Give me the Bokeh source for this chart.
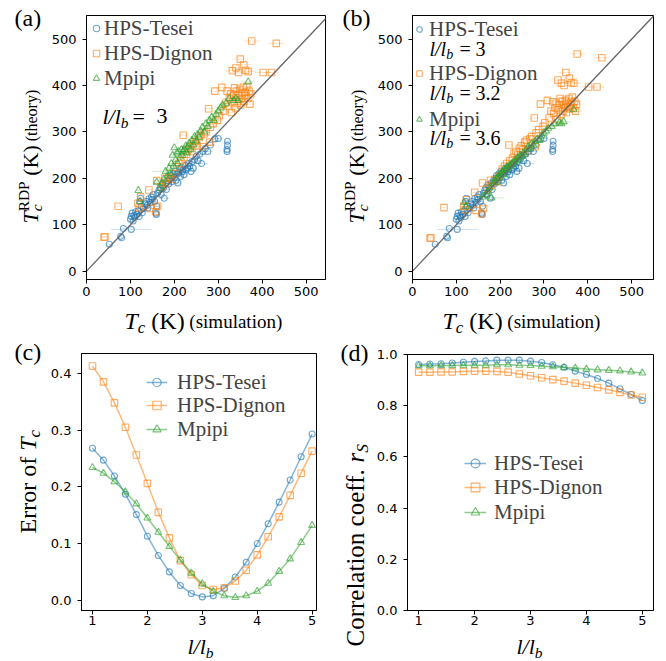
import math
from bokeh.plotting import figure
from bokeh.layouts import row, column
from bokeh.models import Label, Legend, LegendItem, FixedTicker, NumeralTickFormatter, Range1d
from bokeh.embed import file_html
from bokeh.resources import INLINE

BLUE = "#1f77b4"
ORANGE = "#ff7f0e"
GREEN = "#2ca02c"
SERIF = "Liberation Serif"
SANS = "DejaVu Sans"

# ---------------- data: panels (a) and (b) ----------------
tesei_sim = [52, 78, 80, 84, 102, 100, 102, 104, 106, 108, 110, 112, 115, 118, 120, 121, 123, 125, 127, 130,
             133, 136, 138, 140, 142, 145, 148, 150, 152, 155, 158, 159, 160, 162, 165, 168, 170, 172, 175, 177,
             180, 182, 185, 187, 190, 192, 195, 197, 200, 202, 204, 206, 208, 210, 212, 214, 216, 218, 220, 222,
             225, 227, 230, 232, 235, 238, 240, 243, 246, 250, 254, 258, 262, 265, 270, 276, 282, 292, 300,
             320, 320, 321, 321]
tesei_theory = [58, 75, 72, 92, 90, 112, 118, 125, 108, 120, 116, 128, 122, 130, 118, 150, 157, 140, 126, 135,
                145, 150, 142, 136, 156, 148, 160, 155, 165, 150, 125, 122, 140, 168, 175, 180, 165, 186, 178, 157,
                190, 176, 195, 188, 200, 206, 193, 210, 202, 216, 196, 210, 190, 212, 220, 204, 224, 214, 218, 208,
                228, 218, 222, 232, 226, 215, 236, 222, 240, 248, 238, 252, 232, 258, 264, 258, 272, 285, 286,
                258, 262, 271, 280]
tesei_err = [3, 3, 3, 4, 46, 5, 4, 4, 4, 5, 4, 5, 4, 5, 5, 4, 4, 5, 5, 5,
             6, 5, 5, 6, 5, 6, 6, 5, 5, 6, 6, 5, 6, 6, 6, 7, 6, 7, 6, 12,
             7, 6, 7, 8, 7, 8, 7, 8, 7, 8, 7, 8, 7, 8, 8, 7, 9, 8, 8, 8,
             9, 8, 9, 9, 9, 8, 10, 9, 10, 10, 9, 10, 15, 10, 10, 10, 11, 10, 10,
             6, 6, 6, 6]

dignon_sim = [40, 42, 72, 117, 120, 123, 142, 145, 158, 160, 162, 170, 178, 180, 188, 195, 200, 205, 210, 215,
              220, 222, 228, 232, 236, 240, 244, 248, 252, 256, 260, 264, 268, 272, 278, 280, 282, 288, 292, 298,
              302, 308, 312, 316, 320, 322, 325, 328, 330, 333, 335, 337, 339, 341, 343, 345, 347, 349, 351, 353,
              355, 357, 359, 361, 363, 365, 367, 370, 372, 374, 332, 340, 346, 350, 358, 362, 368, 376, 402, 421,
              432]
dignon_theory_3 = [73, 74, 140, 146, 136, 160, 175, 135, 128, 195, 140, 182, 200, 190, 202, 198, 210, 225, 232, 238,
                   293, 245, 252, 262, 268, 258, 275, 280, 270, 288, 292, 268, 296, 300, 350, 278, 310, 318, 388, 325,
                   335, 396, 345, 362, 388, 355, 372, 382, 342, 365, 378, 395, 352, 388, 362, 380, 370, 392, 358, 384,
                   372, 396, 366, 386, 378, 398, 372, 388, 360, 382, 432, 438, 428, 457, 445, 433, 430, 496, 428, 428,
                   491]
dignon_theory_32 = [71, 72, 137, 140, 132, 154, 170, 131, 124, 190, 135, 178, 196, 185, 198, 193, 205, 220, 226, 232,
                    272, 238, 244, 254, 258, 250, 265, 270, 262, 278, 282, 260, 285, 290, 330, 268, 298, 305, 360, 312,
                    320, 368, 330, 345, 365, 340, 352, 362, 328, 348, 358, 372, 338, 366, 345, 358, 352, 368, 342, 362,
                    354, 372, 350, 364, 358, 375, 352, 366, 345, 360, 412, 405, 400, 428, 416, 406, 405, 468, 397, 397,
                    460]
dignon_err = [3, 3, 4, 5, 5, 5, 6, 6, 6, 6, 6, 7, 7, 7, 7, 8, 8, 8, 8, 8,
              9, 9, 9, 9, 9, 9, 10, 10, 10, 10, 10, 10, 10, 11, 11, 11, 11, 11, 12, 12,
              12, 12, 12, 12, 13, 13, 13, 13, 13, 13, 14, 14, 14, 14, 14, 14, 14, 14, 14, 14,
              15, 15, 15, 15, 15, 15, 15, 15, 15, 15, 18, 18, 18, 18, 18, 18, 18, 18, 18, 18,
              18]

mpipi_sim = [118, 122, 160, 168, 172, 176, 180, 184, 188, 190, 193, 196, 198, 200, 203, 206, 208, 210, 213, 216,
             218, 220, 223, 226, 228, 231, 234, 237, 240, 243, 246, 250, 253, 256, 260, 264, 268, 272, 276, 280,
             285, 290, 295, 300, 305, 310, 318, 325, 335, 340, 345, 368]
mpipi_theory_3 = [174, 150, 192, 178, 190, 198, 215, 205, 222, 210, 232, 250, 226, 266, 240, 255, 232, 258, 246, 262,
                  250, 258, 262, 270, 255, 268, 276, 262, 282, 272, 290, 280, 295, 288, 302, 310, 300, 318, 312, 325,
                  332, 325, 338, 345, 352, 358, 362, 372, 368, 372, 368, 408]
mpipi_theory_36 = [148, 140, 160, 165, 172, 180, 158, 190, 195, 192, 200, 205, 202, 210, 212, 215, 208, 220, 218, 225,
                   222, 228, 226, 232, 230, 235, 240, 238, 245, 242, 250, 248, 255, 252, 262, 268, 265, 275, 272, 280,
                   285, 282, 292, 298, 302, 308, 312, 318, 320, 318, 322, 348]
mpipi_err = [5, 5, 6, 6, 6, 7, 30, 7, 7, 7, 8, 8, 8, 8, 8, 8, 8, 8, 8, 9,
             9, 9, 9, 9, 9, 9, 10, 10, 10, 10, 10, 10, 10, 10, 11, 11, 11, 11, 11, 12,
             12, 12, 12, 12, 13, 13, 13, 13, 14, 14, 14, 15]

diag = [0, 560]

# ---------------- data: panels (c) and (d) ----------------
lb_ratio = [1.0, 1.2, 1.4, 1.6, 1.8, 2.0, 2.2, 2.4, 2.6, 2.8, 3.0, 3.2, 3.4, 3.6, 3.8, 4.0, 4.2, 4.4, 4.6, 4.8, 5.0]
err_tesei = [0.268, 0.247, 0.219, 0.187, 0.151, 0.113, 0.079, 0.050, 0.026, 0.012, 0.006, 0.008, 0.021, 0.041,
             0.067, 0.100, 0.135, 0.173, 0.212, 0.253, 0.293]
err_dignon = [0.413, 0.385, 0.348, 0.305, 0.256, 0.206, 0.155, 0.110, 0.070, 0.045, 0.026, 0.019, 0.022, 0.034,
              0.053, 0.080, 0.112, 0.147, 0.185, 0.224, 0.263]
err_mpipi = [0.234, 0.224, 0.209, 0.191, 0.170, 0.145, 0.120, 0.095, 0.071, 0.048, 0.029, 0.016, 0.008, 0.005,
             0.008, 0.016, 0.030, 0.051, 0.073, 0.102, 0.132]
rs_tesei = [0.961, 0.963, 0.964, 0.967, 0.970, 0.973, 0.975, 0.978, 0.978, 0.978, 0.974, 0.969, 0.960, 0.950,
            0.935, 0.922, 0.906, 0.888, 0.866, 0.844, 0.820]
rs_dignon = [0.931, 0.931, 0.932, 0.932, 0.934, 0.935, 0.935, 0.934, 0.931, 0.924, 0.917, 0.909, 0.902, 0.896,
             0.888, 0.880, 0.871, 0.862, 0.852, 0.842, 0.833]
rs_mpipi = [0.956, 0.956, 0.957, 0.957, 0.958, 0.958, 0.958, 0.960, 0.960, 0.958, 0.957, 0.954, 0.952, 0.949,
            0.947, 0.943, 0.940, 0.938, 0.936, 0.932, 0.928]

model_names = ["HPS-Tesei", "HPS-Dignon", "Mpipi"]
ratio_labels_b = ["3", "3.2", "3.6"]
scat_ticks = [0, 100, 200, 300, 400, 500]

# ---------------- text helpers ----------------
W_REG = {' ': 250, '(': 333, ')': 333, 'K': 722, 'R': 667, 'D': 722, 'P': 556, '=': 564, '.': 250,
         't': 278, 'h': 500, 'e': 444, 'o': 500, 'r': 333, 'y': 500, 's': 389, 'i': 278, 'm': 778,
         'u': 500, 'l': 278, 'a': 444, 'n': 500, 'E': 611, 'f': 333, 'C': 667, 'c': 444, 'S': 556}
W_IT = {'T': 556, 'c': 444, 'l': 278, '/': 278, 'b': 500, 'r': 389, 'S': 500}
BASE_FIX = 0.29  # bokeh draws "alphabetic" text slightly below its anchor


def tw(s, size, italic):
    table = W_IT if italic else W_REG
    return sum(table.get(ch, 500) for ch in s) * size / 1000.0


def put(p, origin, px, py, text, size, italic=False, vertical=False):
    ox, oy = origin
    if vertical:
        px -= BASE_FIX * size
    else:
        py -= BASE_FIX * size
    p.add_layout(Label(x=px - ox, y=oy - py, x_units="screen", y_units="screen", text=text,
                       text_font=SERIF, text_font_size=f"{size}px",
                       text_font_style="italic" if italic else "normal",
                       text_color="black", text_baseline="alphabetic", text_align="left",
                       angle=math.pi / 2 if vertical else 0.0))


def runs(p, origin, x0, y0, items, vertical=False):
    pen = 0.0
    for text, size, italic, shift, adv in items:
        stripped = text.lstrip(" ")
        lead = tw(text[:len(text) - len(stripped)], size, italic)
        pen += lead
        if vertical:
            put(p, origin, x0 - shift, y0 - pen, stripped, size, italic, True)
        else:
            put(p, origin, x0 + pen, y0 - shift, stripped, size, italic)
        if adv:
            pen += tw(stripped, size, italic)
        else:
            pen -= lead


def make_fig(width, height, bl, br, bt, bb, xr, yr, xticks, yticks, xstandoff=3):
    p = figure(width=width, height=height, output_backend="svg", toolbar_location=None, tools="",
               min_border_left=bl, min_border_right=br, min_border_top=bt, min_border_bottom=bb,
               x_range=Range1d(*xr), y_range=Range1d(*yr))
    p.grid.visible = False
    p.background_fill_color = "white"
    p.border_fill_color = "white"
    p.outline_line_color = "black"
    p.outline_line_width = 1
    p.outline_line_alpha = 1
    for ax in (p.xaxis[0], p.yaxis[0]):
        ax.axis_line_color = "black"
        ax.major_tick_line_color = "black"
        ax.major_tick_out = 4
        ax.major_tick_in = 0
        ax.minor_tick_line_color = None
        ax.major_label_text_font = SANS
        ax.major_label_text_font_size = "13px"
        ax.major_label_text_color = "black"
    p.xaxis.ticker = FixedTicker(ticks=xticks)
    p.yaxis.ticker = FixedTicker(ticks=yticks)
    p.xaxis.major_label_standoff = xstandoff
    p.yaxis.major_label_standoff = 6
    return p


def strip(width, height):
    s = figure(width=width, height=height, output_backend="svg", toolbar_location=None, tools="",
               x_axis_type=None, y_axis_type=None, min_border=0, min_border_left=0, min_border_right=0,
               min_border_top=0, min_border_bottom=0, x_range=Range1d(0, 1), y_range=Range1d(0, 1))
    s.outline_line_color = None
    s.background_fill_color = "white"
    s.border_fill_color = "white"
    return s


def W(fig):
    # wrap a figure on its own so that bokeh does not align its frame with its neighbours
    return column(fig)


def scatter_set(p, sim, theory, err, color, marker, size):
    p.segment(x0=[s - e for s, e in zip(sim, err)], y0=theory,
              x1=[s + e for s, e in zip(sim, err)], y1=theory,
              line_color=color, line_alpha=0.22, line_width=1)
    return p.scatter(sim, theory, marker=marker, size=size, fill_color=None,
                     line_color=color, line_alpha=0.65, line_width=1.1)


def line_set(p, ys, color, marker, size):
    rl = p.line(lb_ratio, ys, line_color=color, line_alpha=0.55, line_width=1.5)
    rm = p.scatter(lb_ratio, ys, marker=marker, size=size, fill_color=None,
                   line_color=color, line_alpha=0.65, line_width=1.1)
    return [rl, rm]


def legends(p, frame, rends, vx, centers, gw, standoff, size=21):
    # one single-entry legend per model, each 30 px tall, centred on the given page rows
    for name, r, c in zip(model_names, rends, centers):
        item = LegendItem(label=name, renderers=r if isinstance(r, list) else [r])
        lg = Legend(items=[item], location=(vx, frame[1] - c - 15), orientation="vertical",
                    background_fill_alpha=0, border_line_color=None,
                    label_text_font=SERIF, label_text_font_size=f"{size}px",
                    glyph_width=gw, glyph_height=30, label_height=30,
                    label_standoff=standoff, spacing=0, padding=0, margin=0)
        p.add_layout(lg)


TC_X = [("T", 24, True, 0, True), ("c", 16.8, True, -5, True),
        (" (K)", 24, False, 0, True), (" (simulation)", 19, False, 0, True)]
TC_Y = [("T", 22, True, 0, True), ("c", 15.4, True, -4.5, False),
        ("RDP", 15.4, False, 9, True), (" (K)", 22, False, 0, True),
        (" (theory)", 16, False, 0, True)]
LLB = [("l/l", 22, True, 0, True), ("b", 15.4, True, -4, True)]

# page layout (x positions of strips / figures)
YA, YB, YC, YD = 46, 44, 44, 42          # widths of the y-label strips
WA, WB, WC, WD = 330 - YA, 335 - YB, 330 - YC, 335 - YD

# ---------------- panel (a) ----------------
FA = (86, 279)
pa = make_fig(WA, 303, 86 - YA, 5, 15, 24, (0, 544), (-18, 551), scat_ticks, scat_ticks)
ra = [scatter_set(pa, tesei_sim, tesei_theory, tesei_err, BLUE, "circle", 6),
      scatter_set(pa, dignon_sim, dignon_theory_3, dignon_err, ORANGE, "square", 6.5),
      scatter_set(pa, mpipi_sim, mpipi_theory_3, mpipi_err, GREEN, "triangle", 7)]
pa.line(diag, diag, line_color="#666666", line_width=1.3)
legends(pa, FA, ra, 2, [28, 53, 78], 16, 0)
runs(pa, FA, 102, 122, [("l/l", 22, True, 0, True), ("b", 15.4, True, -4.5, True)])
put(pa, FA, 132, 122, "=", 22)
put(pa, FA, 156, 122, "3", 22)
ysA = strip(YA, 336)
put(ysA, (0, 336), 14, 24, "(a)", 24)
runs(ysA, (0, 336), 36, 223, TC_Y, vertical=True)
xsA = strip(WA, 33)
runs(xsA, (YA, 336), 124, 327, TC_X)

# ---------------- panel (b) ----------------
FB = (411, 279)
pb = make_fig(WB, 303, 411 - 330 - YB, 12, 15, 24, (0, 550), (-18, 551), scat_ticks, scat_ticks)
rb = [scatter_set(pb, tesei_sim, tesei_theory, tesei_err, BLUE, "circle", 6),
      scatter_set(pb, dignon_sim, dignon_theory_32, dignon_err, ORANGE, "square", 6.5),
      scatter_set(pb, mpipi_sim, mpipi_theory_36, mpipi_err, GREEN, "triangle", 7)]
pb.line(diag, diag, line_color="#666666", line_width=1.3)
legends(pb, FB, rb, 0, [29, 73, 119], 14, 3)
for i, base in enumerate([54, 98, 143]):
    runs(pb, FB, 428, base, [("l/l", 20, True, 0, True), ("b", 14, True, -4, True)])
    put(pb, FB, 458, base, "=", 20)
    put(pb, FB, 474, base, ratio_labels_b[i], 20)
ysB = strip(YB, 336)
put(ysB, (330, 336), 342, 24, "(b)", 24)
runs(ysB, (330, 336), 362, 223, TC_Y, vertical=True)
xsB = strip(WB, 33)
runs(xsB, (330 + YB, 336), 442, 327, TC_X)

# ---------------- panel (c) ----------------
FC = (81, 610)
pc = make_fig(WC, 295, 81 - YC, 14, 17, 21, (0.8, 5.08), (-0.018, 0.435), [1, 2, 3, 4, 5],
              [0.0, 0.1, 0.2, 0.3, 0.4], xstandoff=1)
pc.yaxis.formatter = NumeralTickFormatter(format="0.0")
rc = [line_set(pc, err_tesei, BLUE, "circle", 6),
      line_set(pc, err_dignon, ORANGE, "square", 6.5),
      line_set(pc, err_mpipi, GREEN, "triangle", 7)]
legends(pc, FC, rc, 65, [382, 405, 429], 21, 10)
ysC = strip(YC, 324)
put(ysC, (0, 660), 14, 358, "(c)", 24)
runs(ysC, (0, 660), 34, 533, [("Error of ", 24, False, 0, True), ("T", 24, True, 0, True),
                              ("c", 16.8, True, -5, True)], vertical=True)
xsC = strip(WC, 29)
runs(xsC, (YC, 660), 187, 652, LLB)

# ---------------- panel (d) ----------------
FD = (407, 610)
pd_ = make_fig(WD, 295, 407 - 330 - YD, 12, 18, 21, (0.8, 5.2), (0.0, 1.0), [1, 2, 3, 4, 5],
               [0.0, 0.2, 0.4, 0.6, 0.8, 1.0], xstandoff=1)
pd_.yaxis.formatter = NumeralTickFormatter(format="0.0")
rd = [line_set(pd_, rs_tesei, BLUE, "circle", 6),
      line_set(pd_, rs_dignon, ORANGE, "square", 6.5),
      line_set(pd_, rs_mpipi, GREEN, "triangle", 7)]
legends(pd_, FD, rd, 57, [463, 487, 512], 22, 8)
ysD = strip(YD, 324)
put(ysD, (330, 660), 340, 359, "(d)", 24)
runs(ysD, (330, 660), 362, 646, [("Correlation coeff. ", 25, False, 0, True), ("r", 25, True, 0, True),
                                 ("S", 17.5, True, -5, True)], vertical=True)
xsD = strip(WD, 29)
runs(xsD, (330 + YD, 660), 516, 652, LLB)

blockA = row(W(ysA), column(W(pa), W(xsA)))
blockB = row(W(ysB), column(W(pb), W(xsB)))
blockC = row(W(ysC), column(W(pc), W(xsC)))
blockD = row(W(ysD), column(W(pd_), W(xsD)))
layout = column(row(blockA, blockB), row(blockC, blockD))
open("out.html", "w").write(file_html(layout, INLINE))
